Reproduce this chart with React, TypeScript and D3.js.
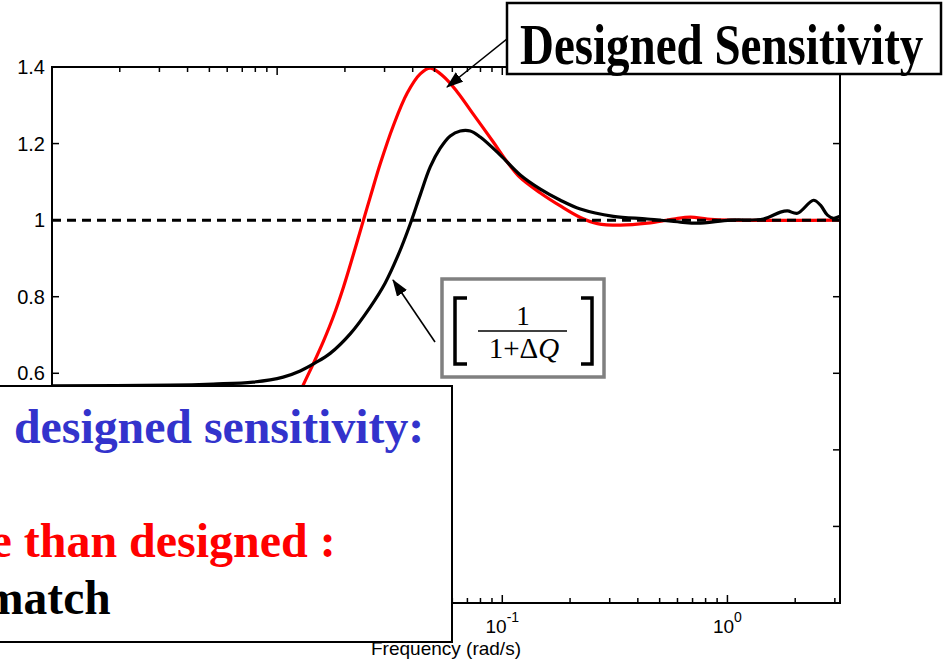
import React from 'react';
import * as d3 from 'd3';

const W = 945;
const H = 661;
const PLOT = { left: 52, right: 840, top: 67, bottom: 603 };
const NOTE_BOX = { x: -5, y: 386, w: 457, h: 256 };

// Designed sensitivity (red)
const designedFreq = [
  0.001, 0.002005, 0.003707, 0.00558, 0.007586, 0.00931, 0.01143, 0.01305, 0.01445, 0.01601,
  0.01774, 0.01965, 0.02177, 0.02412, 0.02591, 0.0287, 0.03278, 0.03783, 0.04321, 0.04786,
  0.05467, 0.0631, 0.0743, 0.0912, 0.1052, 0.1202, 0.1476, 0.1811, 0.2222, 0.2644,
  0.3345, 0.441, 0.5754, 0.6848, 0.8149, 1.031, 3.162,
];
const designedMag = [
  0.01, 0.03, 0.08, 0.17, 0.27, 0.37, 0.49, 0.569, 0.624, 0.682,
  0.747, 0.823, 0.909, 0.998, 1.06, 1.147, 1.246, 1.332, 1.382, 1.397,
  1.376, 1.335, 1.277, 1.204, 1.152, 1.111, 1.071, 1.037, 1.007, 0.991,
  0.987, 0.992, 1.003, 1.008, 1.003, 1.0, 1.0,
];

// Achieved 1/(1+ΔQ) (black)
const achievedFreq = [
  0.001, 0.003345, 0.005195, 0.007823, 0.01063, 0.01266, 0.01476, 0.0172, 0.02111, 0.02591,
  0.0302, 0.0345, 0.03901, 0.04321, 0.04786, 0.05302, 0.05873, 0.06506, 0.07207, 0.07983,
  0.09797, 0.1202, 0.1476, 0.1811, 0.2222, 0.3114, 0.441, 0.6182, 0.7358, 1.031,
  1.445, 1.72, 1.848, 2.047, 2.411, 2.59, 2.782, 2.959, 3.162,
];
const achievedMag = [
  0.567, 0.569, 0.572, 0.577, 0.59, 0.606, 0.627, 0.652, 0.703, 0.773,
  0.836, 0.909, 0.99, 1.066, 1.139, 1.188, 1.22, 1.233, 1.233, 1.217,
  1.17, 1.118, 1.081, 1.052, 1.029, 1.01, 1.003, 0.995, 0.992, 1.0,
  1.003, 1.021, 1.024, 1.018, 1.052, 1.039, 1.013, 1.005, 1.01,
];

const yTicks = [0, 0.2, 0.4, 0.6, 0.8, 1, 1.2, 1.4];
const yTickLabels = ['0', '0.2', '0.4', '0.6', '0.8', '1', '1.2', '1.4'];
const xDecades = [-3, -2, -1, 0];
const xTitle = 'Frequency (rad/s)';
const topNote = 'Designed Sensitivity';
const noteBlue = 'designed sensitivity:';
const noteRed = 'e than designed :';
const noteBlack = 'match';

const axisFont = '"Liberation Sans", Arial, sans-serif';
const serifFont = '"Liberation Serif", "Times New Roman", serif';

// a label anchored inside the note box would be hidden by it
const underNote = (px: number, py: number) =>
  px >= NOTE_BOX.x && px <= NOTE_BOX.x + NOTE_BOX.w && py >= NOTE_BOX.y - 8 && py <= NOTE_BOX.y + NOTE_BOX.h;

export default function App() {
  const x = d3.scaleLog().domain([1e-3, Math.pow(10, 0.5)]).range([PLOT.left, PLOT.right]);
  const y = d3.scaleLinear().domain([0, 1.4]).range([PLOT.bottom, PLOT.top]);
  const line = d3
    .line<[number, number]>()
    .x((d) => x(d[0]))
    .y((d) => y(d[1]))
    .curve(d3.curveCatmullRom.alpha(0.5));

  const designed = designedFreq.map((f, i) => [f, designedMag[i]] as [number, number]);
  const achieved = achievedFreq.map((f, i) => [f, achievedMag[i]] as [number, number]);

  const xMax = x.domain()[1];
  const xTicks: { v: number; major: boolean }[] = [];
  xDecades.forEach((d) => {
    for (let m = 1; m <= 9; m++) {
      const v = m * Math.pow(10, d);
      if (v <= xMax * 1.0001) xTicks.push({ v, major: m === 1 });
    }
  });

  const tip1 = { x: 447, y: 87 };
  const tail1 = { x: 510, y: 36.5 };
  const tip2 = { x: 393, y: 280 };
  const tail2 = { x: 435, y: 342 };

  return (
    <svg
      width={W}
      height={H}
      viewBox={`0 0 ${W} ${H}`}
      style={{ position: 'absolute', left: 0, top: 0, background: '#fff' }}
    >
      <defs>
        <marker
          id="head"
          markerUnits="userSpaceOnUse"
          markerWidth={17}
          markerHeight={12}
          refX={16}
          refY={6}
          orient="auto"
        >
          <path d="M0,0 L17,6 L0,12 Z" fill="#000" />
        </marker>
      </defs>
      <rect x={0} y={0} width={W} height={H} fill="#fff" />

      {/* curves and unity reference */}
      <path d={line(designed) || ''} fill="none" stroke="#ff0000" strokeWidth={3.2} />
      <line
        x1={PLOT.left}
        x2={PLOT.right}
        y1={y(1)}
        y2={y(1)}
        stroke="#000"
        strokeWidth={3}
        strokeDasharray="9,6"
      />
      <path d={line(achieved) || ''} fill="none" stroke="#000" strokeWidth={3.2} />

      {/* axes box */}
      <rect
        x={PLOT.left}
        y={PLOT.top}
        width={PLOT.right - PLOT.left}
        height={PLOT.bottom - PLOT.top}
        fill="none"
        stroke="#000"
        strokeWidth={2}
      />
      {yTicks.map((t, i) => (
        <g key={`y${i}`}>
          <line x1={PLOT.left} x2={PLOT.left + 7} y1={y(t)} y2={y(t)} stroke="#000" strokeWidth={1.5} />
          <line x1={PLOT.right} x2={PLOT.right - 7} y1={y(t)} y2={y(t)} stroke="#000" strokeWidth={1.5} />
          {!underNote(PLOT.left - 7, y(t)) && (
            <text
              x={PLOT.left - 7}
              y={y(t)}
              dy="0.35em"
              textAnchor="end"
              fontFamily={axisFont}
              fontSize={20}
              fill="#000"
            >
              {yTickLabels[i]}
            </text>
          )}
        </g>
      ))}
      {xTicks.map((t, i) => {
        const len = t.major ? 8 : 5;
        return (
          <g key={`x${i}`}>
            <line x1={x(t.v)} x2={x(t.v)} y1={PLOT.bottom} y2={PLOT.bottom - len} stroke="#000" strokeWidth={1.5} />
            <line x1={x(t.v)} x2={x(t.v)} y1={PLOT.top} y2={PLOT.top + len} stroke="#000" strokeWidth={1.5} />
          </g>
        );
      })}
      {xDecades
        .filter((d) => !underNote(x(Math.pow(10, d)), 630))
        .map((d) => (
          <text
            key={`xl${d}`}
            x={x(Math.pow(10, d))}
            y={633}
            textAnchor="middle"
            fontFamily={axisFont}
            fontSize={19}
            fill="#000"
          >
            10
            <tspan dy={-11} fontSize={14}>
              {String(d)}
            </tspan>
          </text>
        ))}
      <text
        x={(PLOT.left + PLOT.right) / 2}
        y={655}
        textAnchor="middle"
        fontFamily={axisFont}
        fontSize={19}
        fill="#000"
      >
        {xTitle}
      </text>

      {/* callout arrows */}
      <line x1={tail1.x} y1={tail1.y} x2={tip1.x} y2={tip1.y} stroke="#000" strokeWidth={1.6} markerEnd="url(#head)" />
      <line x1={tail2.x} y1={tail2.y} x2={tip2.x} y2={tip2.y} stroke="#000" strokeWidth={1.6} markerEnd="url(#head)" />

      {/* formula callout */}
      <rect x={442} y={279} width={162} height={98} fill="#fff" stroke="#808080" strokeWidth={3.5} />
      <path d="M467,298 L455,298 L455,364 L467,364" fill="none" stroke="#000" strokeWidth={3.5} />
      <path d="M581,298 L592,298 L592,364 L581,364" fill="none" stroke="#000" strokeWidth={3.5} />
      <text x={523} y={325} textAnchor="middle" fontFamily={serifFont} fontSize={27} fill="#000">
        1
      </text>
      <line x1={478} x2={567} y1={331} y2={331} stroke="#000" strokeWidth={1.5} />
      <text x={524} y={358} textAnchor="middle" fontFamily={serifFont} fontSize={29} fill="#000">
        1+Δ<tspan fontStyle="italic">Q</tspan>
      </text>

      {/* title callout */}
      <rect x={507} y={3} width={434} height={71} fill="#fff" stroke="#000" strokeWidth={2.5} />
      <text
        transform="translate(520,64) scale(1,1.22)"
        fontFamily={serifFont}
        fontWeight="bold"
        fontSize={47}
        fill="#000"
      >
        {topNote}
      </text>

      {/* note box */}
      <rect x={NOTE_BOX.x} y={NOTE_BOX.y} width={NOTE_BOX.w} height={NOTE_BOX.h} fill="#fff" stroke="#000" strokeWidth={2} />
      <text x={14} y={443} fontFamily={serifFont} fontWeight="bold" fontSize={47.8} fill="#3333cc">
        {noteBlue}
      </text>
      <text x={-9.6} y={557} fontFamily={serifFont} fontWeight="bold" fontSize={48} fill="#ff0000">
        {noteRed}
      </text>
      <text x={-16} y={614} fontFamily={serifFont} fontWeight="bold" fontSize={47.5} fill="#000">
        {noteBlack}
      </text>
    </svg>
  );
}
